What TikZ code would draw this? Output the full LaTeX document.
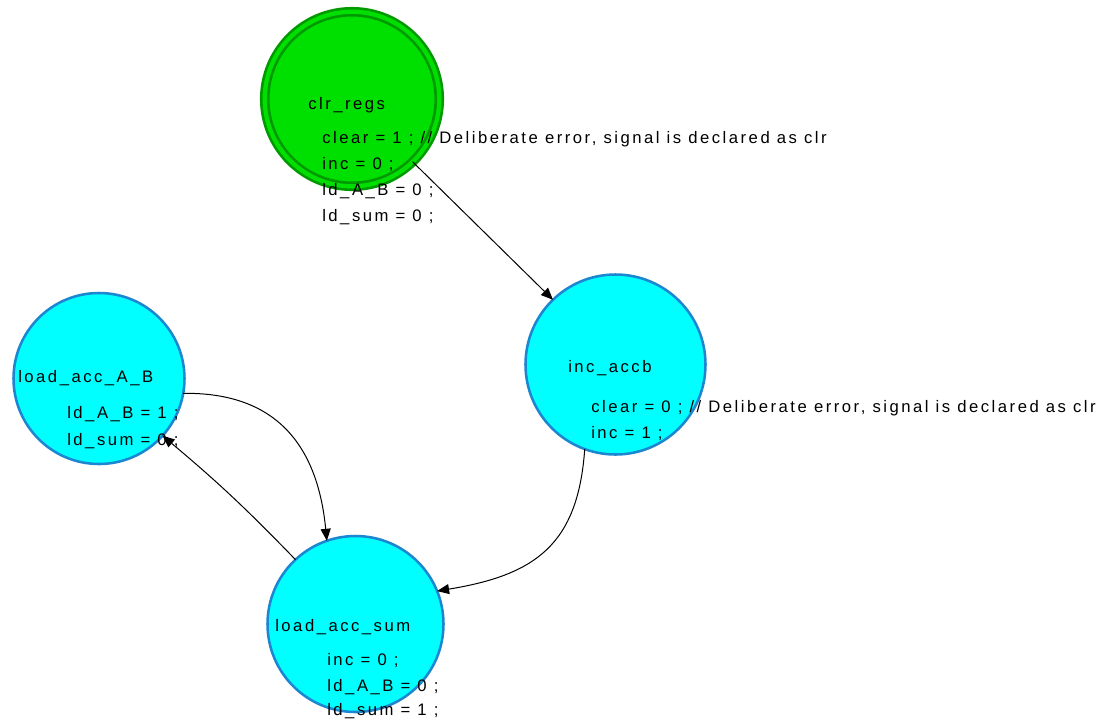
\documentclass[tikz,border=0pt]{standalone}
\usepackage{fontspec}
\setmainfont{Liberation Sans}[LetterSpace=15]
\usetikzlibrary{arrows.meta}
\definecolor{stgreen}{HTML}{00E000}
\definecolor{stgreendark}{HTML}{009A00}
\definecolor{stcyan}{HTML}{00FFFF}
\definecolor{stblue}{HTML}{1C86D0}
\begin{document}
\begin{tikzpicture}[x=0.75pt,y=-0.75pt,
  state/.style={circle, draw=stblue, fill=stcyan, line width=1.9pt, outer sep=0pt, inner sep=0pt},
  initstate/.style={circle, draw=stgreendark, fill=stgreen, double=stgreen, double distance=3.2pt,
                    line width=2pt, outer sep=0pt, inner sep=0pt},
  trans/.style={-{Triangle[length=9pt,width=7.5pt]}, line width=0.75pt, black},
  txt/.style={anchor=base west, inner sep=0pt, font=\fontsize{12.5}{14}\selectfont}]
\useasboundingbox (0,0) rectangle (1101,719);
\clip (0,0) rectangle (1101,719);

% states
\node[initstate, minimum size=130.9pt] (clr) at (352,99) {};
\node[state, minimum size=135pt]    (inc) at (615.5,364.5) {};
\node[state, minimum size=128.25pt] (ab)  at (99,378.5) {};
\node[state, minimum size=132pt]    (sum) at (355.5,624) {};

% transitions
\draw[trans] (clr.-46) -- (inc.134);
\draw[trans] (inc.-110) .. controls (578,545) and (535,575) .. (sum.22);
\draw[trans] (ab.-10) .. controls (280,392) and (318,450) .. (sum.109);
\draw[trans] (sum.133) to[bend right=3] (ab.-42);

% state names and actions
\node[txt] (clrname) at (308,109) {clr\_regs};
\node[txt] (clra1) at (322,143) {clear = 1 ; // Deliberate error, signal is declared as clr};
\node[txt] (clra2) at (322,169) {inc = 0 ;};
\node[txt] (clra3) at (322,195) {ld\_A\_B = 0 ;};
\node[txt] (clra4) at (322,221) {ld\_sum = 0 ;};

\node[txt] (incname) at (568,372) {inc\_accb};
\node[txt] (inca1) at (591,412) {clear = 0 ; // Deliberate error, signal is declared as clr};
\node[txt] (inca2) at (591,438) {inc = 1 ;};

\node[txt] (abname) at (18,382) {load\_acc\_A\_B};
\node[txt] (aba1) at (67,418) {ld\_A\_B = 1 ;};
\node[txt] (aba2) at (67,445) {ld\_sum = 0 ;};

\node[txt] (sumname) at (275,631) {load\_acc\_sum};
\node[txt] (suma1) at (327,665) {inc = 0 ;};
\node[txt] (suma2) at (327,691) {ld\_A\_B = 0 ;};
\node[txt] (suma3) at (327,715) {ld\_sum = 1 ;};
\end{tikzpicture}
\end{document}
